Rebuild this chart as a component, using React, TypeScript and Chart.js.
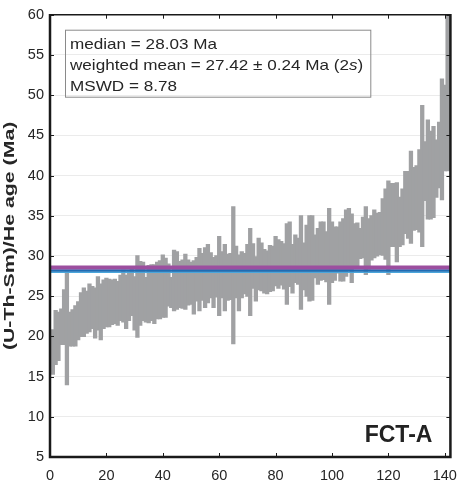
import React, { useEffect, useRef } from 'react';
import { Chart, registerables } from 'chart.js';

Chart.register(...registerables);

// Lower and upper ends of each grain's age bar (Ma), grains sorted by age
const ageLow = [
  15.3, 16.5, 17.0, 19.0, 19.0, 14.0, 18.8, 18.8, 18.8, 19.6,
  20.0, 20.0, 20.4, 20.6, 21.0, 19.8, 20.8, 19.6, 21.0, 21.2,
  21.2, 21.5, 21.6, 21.4, 22.0, 21.8, 21.0, 22.0, 22.6, 20.8,
  19.9, 21.4, 22.0, 21.8, 21.7, 22.0, 21.6, 22.2, 22.2, 22.4,
  22.4, 23.8, 23.6, 23.2, 23.4, 23.6, 23.5, 23.4, 23.9, 24.0,
  22.8, 24.4, 23.2, 24.5, 23.6, 24.2, 24.8, 23.6, 24.9, 22.6,
  24.8, 23.2, 24.5, 24.6, 19.1, 24.8, 23.2, 24.8, 25.3, 25.0,
  22.6, 26.0, 24.4, 25.8, 25.7, 25.4, 25.3, 25.6, 25.7, 26.3,
  26.0, 26.4, 25.9, 24.0, 26.2, 25.4, 26.7, 26.5, 23.4, 25.8,
  25.0, 24.4, 24.5, 27.3, 26.5, 27.0, 27.1, 26.8, 24.0, 26.7,
  27.0, 27.9, 26.9, 26.9, 27.5, 28.3, 26.7, 28.6, 28.8, 29.7,
  29.8, 27.7, 28.4, 29.5, 29.8, 30.0, 30.2, 30.1, 29.6, 27.7,
  31.2, 31.2, 29.3, 31.2, 31.4, 32.8, 32.2, 31.6, 33.2, 33.3,
  33.0, 31.2, 36.9, 34.6, 34.6, 34.8, 37.3, 38.5, 37.0, 40.6,
  40.6,
];
const ageHigh = [
  20.8, 23.2, 23.0, 23.4, 25.8, 28.0, 23.0, 23.3, 23.8, 24.3,
  25.4, 26.0, 25.6, 26.5, 26.2, 26.0, 27.4, 26.5, 27.0, 27.2,
  27.1, 27.0, 27.1, 26.8, 27.6, 28.2, 27.6, 28.0, 28.3, 27.4,
  30.0, 29.3, 29.2, 27.3, 28.8, 28.9, 28.9, 29.2, 29.4, 30.1,
  29.7, 29.0, 27.3, 30.7, 30.5, 29.3, 29.5, 30.2, 29.5, 29.2,
  29.4, 29.8, 30.9, 30.3, 31.0, 31.4, 30.4, 29.8, 30.0, 32.4,
  30.5, 31.4, 30.2, 30.3, 36.1, 31.2, 30.1, 30.5, 30.3, 31.4,
  33.4, 31.5, 29.9, 32.2, 31.6, 30.8, 30.6, 31.3, 31.2, 32.4,
  32.0, 31.8, 31.5, 34.0, 34.2, 31.4, 32.6, 32.2, 35.0, 31.6,
  33.8, 35.0, 35.0, 32.6, 33.4, 34.2, 34.2, 33.0, 35.9, 34.2,
  33.6, 33.6, 34.2, 34.6, 35.7, 35.9, 35.2, 34.0, 34.1, 33.4,
  34.8, 36.1, 34.6, 35.0, 35.7, 35.3, 35.4, 37.1, 38.3, 39.3,
  39.0, 39.0, 39.1, 37.3, 38.3, 40.5, 40.5, 43.0, 41.0, 41.2,
  43.2, 48.7, 44.2, 46.9, 45.5, 46.1, 44.4, 46.6, 52.0, 51.2,
  60.5,
];

const xTicks = [0, 20, 40, 60, 80, 100, 120, 140];
const yTicks = [5, 10, 15, 20, 25, 30, 35, 40, 45, 50, 55, 60];

const magentaLevel = 28.55;
const blueLevel = 28.2;
const cyanLevel = 27.97;

const statLines = ['median = 28.03 Ma', 'weighted mean = 27.42 ± 0.24 Ma (2', 'MSWD = 8.78'];
const sampleName = 'FCT-A';
const yTitle = '(U-Th-Sm)/He age (Ma)';

const FONT = "'Liberation Sans', Arial, Helvetica, sans-serif";
const TEXT = '#262626';

const decorPlugin = {
  id: 'decor',
  afterDatasetsDraw(chart: any) {
    const { ctx, chartArea, scales } = chart;
    const { left, right, top, bottom } = chartArea;
    const x = scales.x;
    const y = scales.y;
    ctx.save();
    ctx.strokeStyle = '#1a1a1a';
    ctx.lineWidth = 1;
    const tl = 4;
    ctx.beginPath();
    yTicks.forEach((v) => {
      const py = Math.round(y.getPixelForValue(v)) + 0.5;
      ctx.moveTo(left, py);
      ctx.lineTo(left + tl, py);
      ctx.moveTo(right, py);
      ctx.lineTo(right - tl, py);
    });
    xTicks.forEach((v) => {
      const px = Math.round(x.getPixelForValue(v)) + 0.5;
      ctx.moveTo(px, bottom);
      ctx.lineTo(px, bottom - tl);
      ctx.moveTo(px, top);
      ctx.lineTo(px, top + tl);
    });
    ctx.stroke();
    // frame
    ctx.lineWidth = 1.5;
    ctx.beginPath();
    ctx.moveTo(left, top);
    ctx.lineTo(right, top);
    ctx.stroke();
    ctx.lineWidth = 2.5;
    ctx.beginPath();
    ctx.moveTo(left, top - 0.75);
    ctx.lineTo(left, bottom);
    ctx.lineTo(right, bottom);
    ctx.lineTo(right, top - 0.75);
    ctx.stroke();
    ctx.restore();
  },
  afterDraw(chart: any) {
    const { ctx, chartArea } = chart;
    const { left, right, top, bottom } = chartArea;
    ctx.save();
    // stats box
    const sx = 1.18;
    const bx = left + 15.5;
    const by = top + 15.5;
    ctx.font = `14.5px ${FONT}`;
    const w2a = ctx.measureText(statLines[1]).width;
    ctx.font = `italic 14.5px ${FONT}`;
    const wS = ctx.measureText('s').width;
    ctx.font = `14.5px ${FONT}`;
    const wP = ctx.measureText(')').width;
    const boxW = (w2a + wS + wP) * sx + 12;
    ctx.strokeStyle = '#8a8a8a';
    ctx.lineWidth = 1;
    ctx.strokeRect(bx, by, boxW, 67);
    ctx.fillStyle = TEXT;
    ctx.textBaseline = 'alphabetic';
    ctx.textAlign = 'left';
    const tx = left + 20;
    const baselines = [top + 34, top + 55, top + 76];
    statLines.forEach((t, i) => {
      ctx.save();
      ctx.translate(tx, baselines[i]);
      ctx.scale(sx, 1);
      ctx.font = `14.5px ${FONT}`;
      ctx.fillText(t, 0, 0);
      if (i === 1) {
        ctx.font = `italic 14.5px ${FONT}`;
        ctx.fillText('s', w2a, 0);
        ctx.font = `14.5px ${FONT}`;
        ctx.fillText(')', w2a + wS, 0);
      }
      ctx.restore();
    });
    // sample name
    ctx.font = `bold 23px ${FONT}`;
    ctx.textAlign = 'right';
    ctx.fillStyle = '#222';
    ctx.fillText(sampleName, right - 18, bottom - 15);
    // y title
    ctx.save();
    ctx.translate(10, (top + bottom) / 2);
    ctx.rotate(-Math.PI / 2);
    ctx.scale(1.47, 1);
    ctx.font = `bold 14.5px ${FONT}`;
    ctx.textAlign = 'center';
    ctx.textBaseline = 'middle';
    ctx.fillStyle = TEXT;
    ctx.fillText(yTitle, 0, 0);
    ctx.restore();
    ctx.restore();
  },
};

export default function App() {
  const ref = useRef<HTMLCanvasElement | null>(null);
  useEffect(() => {
    if (!ref.current) return;
    const bars = ageLow.map((lo, i) => ({ x: i + 1, y: [lo, ageHigh[i]] }));
    const line = (v: number) => [
      { x: 0, y: v },
      { x: 142, y: v },
    ];
    const chart = new Chart(ref.current, {
      type: 'bar',
      data: {
        datasets: [
          {
            type: 'line',
            data: line(magentaLevel),
            borderColor: '#9c4f9f',
            borderWidth: 4,
            pointRadius: 0,
            order: 0,
          } as any,
          {
            type: 'line',
            data: line(blueLevel),
            borderColor: '#1f6cb3',
            borderWidth: 2.5,
            pointRadius: 0,
            order: 1,
          } as any,
          {
            type: 'line',
            data: line(cyanLevel),
            borderColor: '#4aa6dc',
            borderWidth: 1.5,
            pointRadius: 0,
            order: 2,
          } as any,
          {
            type: 'bar',
            data: bars as any,
            backgroundColor: '#a0a1a3',
            borderWidth: 0,
            inflateAmount: 0.6,
            barPercentage: 1.1,
            categoryPercentage: 1,
            order: 5,
          } as any,
        ],
      },
      options: {
        responsive: false,
        animation: false,
        layout: { padding: { left: 0, right: 9, top: 8, bottom: 0 } },
        plugins: { legend: { display: false }, tooltip: { enabled: false } },
        scales: {
          x: {
            type: 'linear',
            min: 0,
            max: 142,
            offset: false,
            grid: { display: false, drawTicks: false },
            border: { display: false },
            afterBuildTicks: (s: any) => {
              s.ticks = xTicks.map((v) => ({ value: v }));
            },
            afterFit: (s: any) => {
              s.height = 29;
            },
            ticks: {
              autoSkip: false,
              maxRotation: 0,
              padding: 10,
              color: TEXT,
              font: { family: FONT, size: 14.5 },
            },
          },
          y: {
            min: 5,
            max: 60,
            grid: { color: '#ebebeb', drawTicks: false, lineWidth: 1 },
            border: { display: false },
            afterBuildTicks: (s: any) => {
              s.ticks = yTicks.map((v) => ({ value: v }));
            },
            afterFit: (s: any) => {
              s.width = 50;
            },
            ticks: {
              padding: 6,
              color: TEXT,
              font: { family: FONT, size: 14.5 },
            },
          },
        },
      } as any,
      plugins: [decorPlugin],
    });
    return () => chart.destroy();
  }, []);
  return (
    <div style={{ position: 'absolute', left: 0, top: 0, width: 467, height: 486, background: '#fff' }}>
      <canvas ref={ref} width={467} height={486} style={{ display: 'block' }} />
    </div>
  );
}
